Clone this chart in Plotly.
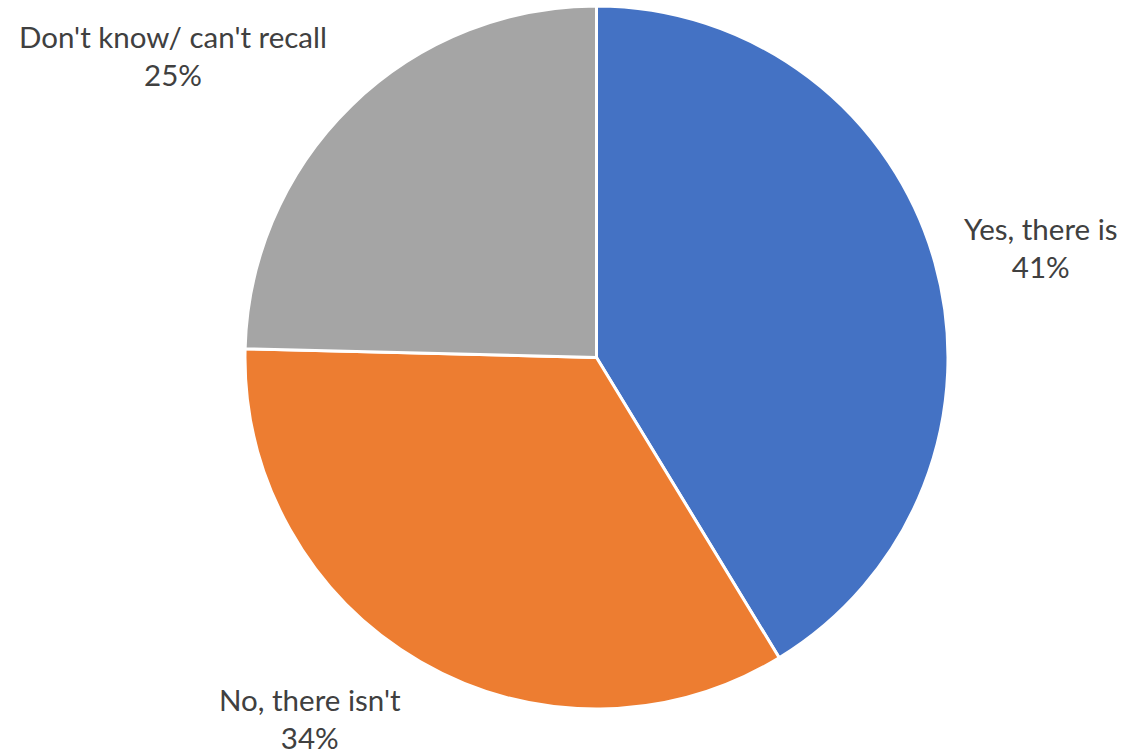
import plotly.graph_objects as go

labels = ["Yes, there is", "No, there isn't", "Don't know/ can't recall"]
values = [41.3, 34.1, 24.6]
pct_labels = ["41%", "34%", "25%"]
colors = ["#4472C4", "#ED7D31", "#A5A5A5"]

W, H = 1127, 754
cx, cy, r = 596.5, 357.5, 351.5

fig = go.Figure(go.Pie(
    labels=labels, values=values, sort=False, direction="clockwise", rotation=0,
    marker=dict(colors=colors, line=dict(color="white", width=3)),
    textinfo="none", hoverinfo="label+percent", showlegend=False,
    domain=dict(x=[(cx - r) / W, (cx + r) / W], y=[1 - (cy + r) / H, 1 - (cy - r) / H]),
))

label_pos = [(1041, 248), (310, 718), (173, 55)]
for lab, p, (x, y) in zip(labels, pct_labels, label_pos):
    fig.add_annotation(x=x / W, y=1 - y / H, xref="paper", yref="paper",
                       text=f"{lab}<br>{p}", showarrow=False,
                       font=dict(family="Lato, Open Sans, sans-serif", size=29.5, color="#404040"),
                       xanchor="center", yanchor="middle", align="center")

fig.update_layout(width=W, height=H, margin=dict(l=0, r=0, t=0, b=0),
                  paper_bgcolor="white", plot_bgcolor="white")
fig.write_html("out.html", config={"displayModeBar": False},
               post_script="document.body.style.margin='0';document.body.style.overflow='hidden';")
